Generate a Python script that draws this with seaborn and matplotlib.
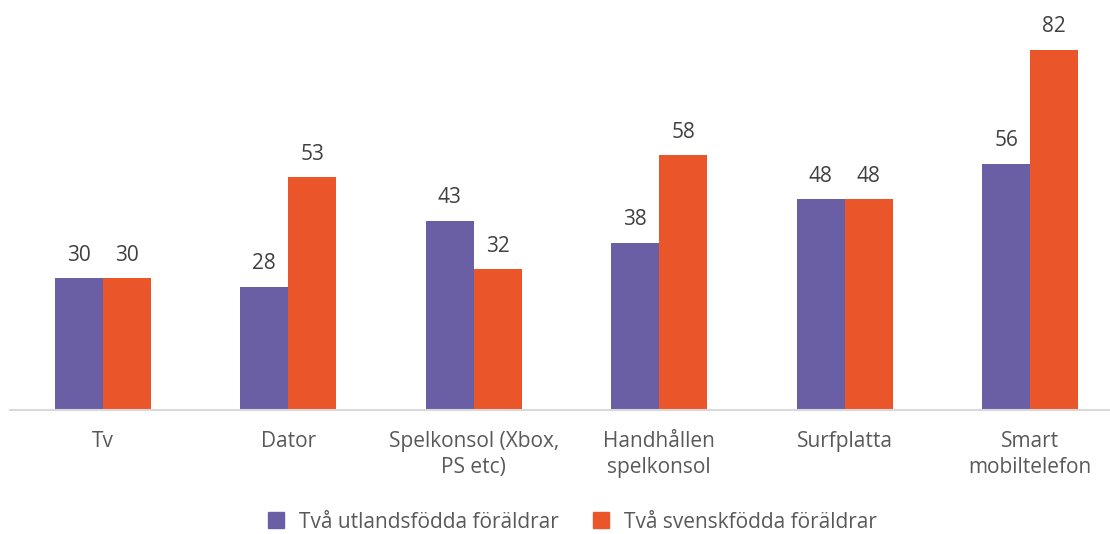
import pandas as pd
import matplotlib.pyplot as plt
import seaborn as sns
from matplotlib.lines import Line2D

categories = ['Tv', 'Dator', 'Spelkonsol (Xbox,\nPS etc)', 'Handhållen\nspelkonsol',
              'Surfplatta', 'Smart\nmobiltelefon']
series_names = ['Två utlandsfödda föräldrar', 'Två svenskfödda föräldrar']
utlandsfodda = [30, 28, 43, 38, 48, 56]
svenskfodda = [30, 53, 32, 58, 48, 82]
colors = ['#6A5EA5', '#EA5529']

df = pd.DataFrame({
    'kategori': categories * 2,
    'grupp': [series_names[0]] * 6 + [series_names[1]] * 6,
    'varde': utlandsfodda + svenskfodda,
})

sns.set_style('white')
plt.rcParams['font.family'] = ['Open Sans', 'DejaVu Sans']

fig = plt.figure(figsize=(11.1, 5.34), dpi=100)
ax = fig.add_axes([10 / 1110, 124 / 534, 1100 / 1110, 400 / 534])

sns.barplot(data=df, x='kategori', y='varde', hue='grupp', palette=colors,
            width=0.52, ax=ax, legend=False, saturation=1, linewidth=0)

for cont in ax.containers:
    ax.bar_label(cont, labels=[f'{v:.0f}' for v in cont.datavalues],
                 padding=9, fontsize=15, color='#404040')

ax.set_ylim(0, 91)
ax.set_xlim(-0.5, 5.43)
ax.set_xlabel('')
ax.set_ylabel('')
ax.set_yticks([])
for s in ['top', 'right', 'left']:
    ax.spines[s].set_visible(False)
ax.spines['bottom'].set_color('#D9D9D9')
ax.spines['bottom'].set_linewidth(1.5)
ax.tick_params(axis='x', length=0, pad=15, labelsize=15, labelcolor='#595959')
for lbl in ax.get_xticklabels():
    lbl.set_linespacing(1.3)

handles = [Line2D([], [], marker='s', linestyle='', markersize=11,
                  markerfacecolor=c, markeredgecolor=c) for c in colors]
fig.legend(handles, series_names, loc='center', bbox_to_anchor=(0.51, 0.022),
           ncol=2, frameon=False, fontsize=15, labelcolor='#595959',
           handletextpad=0.1, columnspacing=1.0)

fig.savefig('out.png', dpi=100)
